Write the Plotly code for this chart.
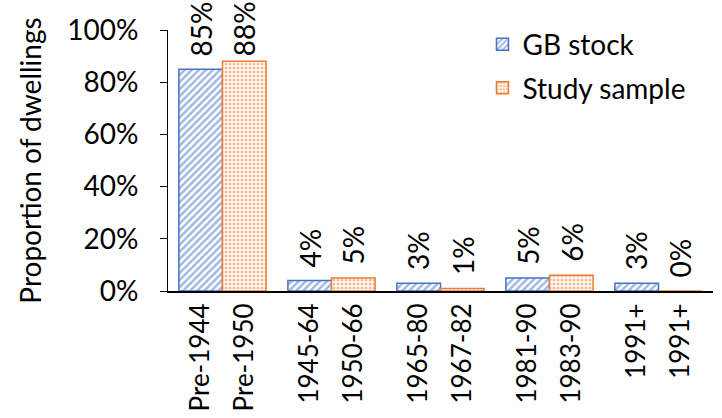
import plotly.graph_objects as go

groups = [0, 1, 2, 3, 4]
gb_labels = ["Pre-1944", "1945-64", "1965-80", "1981-90", "1991+"]
study_labels = ["Pre-1950", "1950-66", "1967-82", "1983-90", "1991+"]
gb_values = [0.85, 0.04, 0.03, 0.05, 0.03]
study_values = [0.88, 0.05, 0.01, 0.06, 0.00]

FONT = "Lato"
FS = 28
XFS = 26
BLUE = "#4472C4"
ORANGE = "#ED7D31"
OFF = 0.2
GAP = 15
M_T, M_B, H = 30, 127, 418
PLOT_H = H - M_T - M_B


def half_width(s):
    ndig = sum(c.isdigit() for c in s)
    return FS * (0.58 * ndig + 0.69) / 2


def label_shift(t, v):
    hw = half_width(t)
    # keep label inside the figure (like the original chart clamps labels)
    room = M_T + PLOT_H * (1 - v) - 3 - hw
    return min(GAP + hw, room)


fig = go.Figure()
fig.add_trace(go.Bar(
    x=groups, y=gb_values, name="GB stock", legendgroup="a",
    marker=dict(color="white", line=dict(color=BLUE, width=1.5),
                pattern=dict(shape="/", fgcolor=BLUE, bgcolor="white", size=5, solidity=0.5)),
))
fig.add_trace(go.Bar(
    x=groups, y=study_values, name="Study sample", legendgroup="b",
    marker=dict(color="white", line=dict(color=ORANGE, width=1.5),
                pattern=dict(shape=".", fgcolor=ORANGE, bgcolor="white", size=4, solidity=0.5)),
))

for vals, off in ((gb_values, -OFF), (study_values, OFF)):
    for g, v in zip(groups, vals):
        t = f"{v:.0%}"
        fig.add_annotation(x=g + off, y=v, text=t, textangle=-90, showarrow=False,
                           xanchor="center", yanchor="middle", yshift=label_shift(t, v),
                           font=dict(size=FS, family=FONT, color="black"))

tickvals = []
ticktext = []
for g, a, b in zip(groups, gb_labels, study_labels):
    tickvals += [g - OFF, g + OFF]
    ticktext += [a, b]

fig.update_layout(
    width=722, height=H,
    margin=dict(l=168, r=9, t=M_T, b=M_B, autoexpand=False),
    paper_bgcolor="white", plot_bgcolor="white",
    font=dict(family=FONT, size=FS, color="black"),
    barmode="group", bargap=0.2, bargroupgap=0,
    legend=dict(x=0.577, y=1.04, xanchor="left", yanchor="top",
                font=dict(size=FS, family=FONT), bgcolor="rgba(0,0,0,0)",
                itemwidth=30, tracegroupgap=4, traceorder="grouped"),
    showlegend=True,
)
fig.update_xaxes(
    range=[-0.5, 4.5], tickmode="array", tickvals=tickvals, ticktext=ticktext,
    tickangle=-90, showline=True, linecolor="black", linewidth=2,
    ticks="", showgrid=False, zeroline=False, tickfont=dict(size=XFS, family=FONT),
    automargin=False,
)
fig.update_yaxes(
    range=[0, 1], dtick=0.2, tickformat=".0%", showline=True, linecolor="black",
    linewidth=1, ticks="outside", ticklen=7, tickcolor="black", showgrid=False,
    zeroline=False, ticklabelstandoff=16, automargin=False,
    title=dict(text="Proportion of dwellings", font=dict(size=FS, family=FONT), standoff=17),
    tickfont=dict(size=FS, family=FONT),
)

fig.write_html("out.html", config={"displayModeBar": False},
               post_script="document.body.style.margin='0';document.body.style.overflow='hidden';")
